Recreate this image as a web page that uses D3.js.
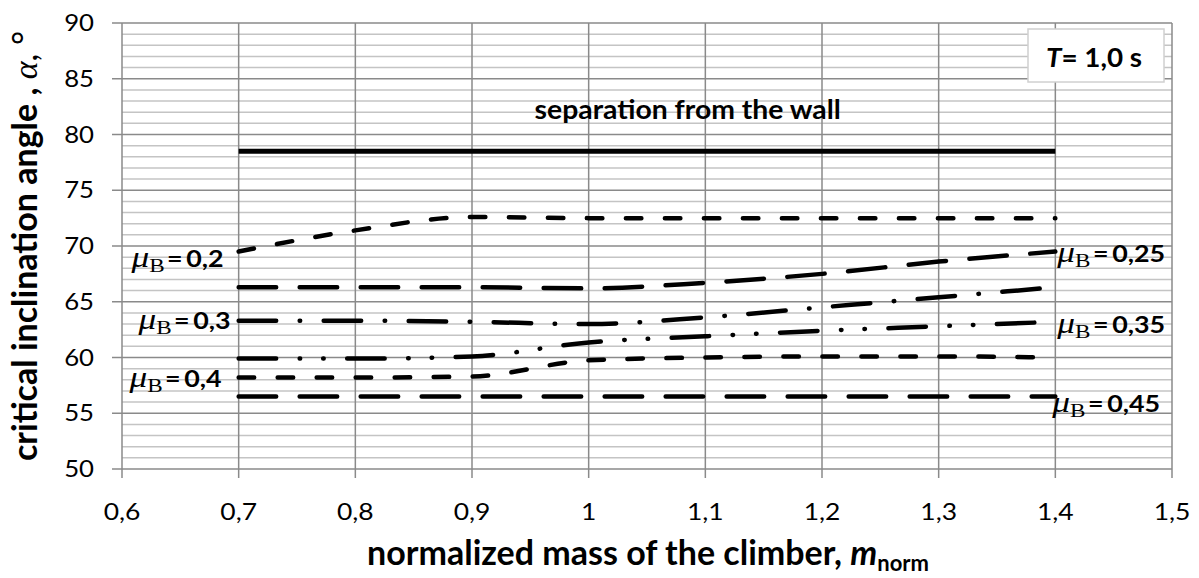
<!DOCTYPE html>
<html>
<head>
<meta charset="utf-8">
<script src="https://cdn.jsdelivr.net/npm/d3@7"></script>
<style>
  body { margin: 0; background: #fff; }
  text { font-family: Lato, "Open Sans", sans-serif; fill: #000; }
</style>
</head>
<body>
<script>
// values
const mass = [0.7, 0.8, 0.9, 1.0, 1.1, 1.2, 1.3, 1.4];
const separation = [78.5, 78.5, 78.5, 78.5, 78.5, 78.5, 78.5, 78.5];
const mu020 = [69.5, 71.4, 72.6, 72.5, 72.5, 72.5, 72.5, 72.5];
const mu025 = [66.3, 66.3, 66.3, 66.2, 66.7, 67.5, 68.6, 69.5];
const mu030 = [63.3, 63.3, 63.2, 63.0, 63.6, 64.5, 65.4, 66.3];
const mu035 = [59.9, 59.9, 60.1, 61.35, 61.9, 62.4, 62.8, 63.2];
const mu040 = [58.2, 58.2, 58.3, 59.75, 60.0, 60.1, 60.1, 60.0];
const mu045 = [56.5, 56.5, 56.5, 56.5, 56.5, 56.5, 56.5, 56.5];
const xTicks = [0.6, 0.7, 0.8, 0.9, 1.0, 1.1, 1.2, 1.3, 1.4, 1.5];
const yTicks = [50, 55, 60, 65, 70, 75, 80, 85, 90];

const width = 1199, height = 578;
const fmt = d => String(d).replace('.', ',');

const x = d3.scaleLinear().domain([0.6, 1.5]).range([122, 1172]);
const y = d3.scaleLinear().domain([50, 90]).range([469, 23]);

const svg = d3.select("body").append("svg")
    .attr("width", width)
    .attr("height", height);

// the original text is a bit wide, so stretch it horizontally around its anchor
function place(sel, px, py, sx) {
  sel.attr("transform", (d, i) => {
    const X = typeof px === "function" ? px(d, i) : px;
    const Y = typeof py === "function" ? py(d, i) : py;
    return `translate(${X},${Y}) scale(${sx},1)`;
  });
}

// minor gridlines every 1 degree
svg.append("g")
  .selectAll("line")
  .data(d3.range(50, 91, 1).filter(v => v % 5 !== 0))
  .enter().append("line")
    .attr("x1", x(0.6)).attr("x2", x(1.5))
    .attr("y1", d => y(d)).attr("y2", d => y(d))
    .attr("stroke", "#c4c4c4").attr("stroke-width", 1.5);

// vertical gridlines
svg.append("g")
  .selectAll("line")
  .data(xTicks)
  .enter().append("line")
    .attr("x1", d => x(d)).attr("x2", d => x(d))
    .attr("y1", y(90)).attr("y2", y(50) + 9)
    .attr("stroke", "#8a8a8a").attr("stroke-width", 1.5);

// major gridlines
svg.append("g")
  .selectAll("line")
  .data(yTicks)
  .enter().append("line")
    .attr("x1", x(0.6) - 10).attr("x2", x(1.5))
    .attr("y1", d => y(d)).attr("y2", d => y(d))
    .attr("stroke", "#8a8a8a").attr("stroke-width", 1.5);

// tick labels
svg.append("g")
  .selectAll("text")
  .data(yTicks)
  .enter().append("text")
    .call(place, 94, d => y(d) + 8, 1.12)
    .attr("text-anchor", "end")
    .style("font-size", "23px")
    .text(d => d);

svg.append("g")
  .selectAll("text")
  .data(xTicks)
  .enter().append("text")
    .call(place, d => x(d), 520, 1.15)
    .attr("text-anchor", "middle")
    .style("font-size", "23px")
    .text(d => fmt(d));

// curves
const series = [
  {values: separation, dash: null},
  {values: mu020, dash: "15.5 23.5"},
  {values: mu025, dash: "37.5 23.5"},
  {values: mu030, dash: "37.5 23.5 0.5 23.5"},
  {values: mu035, dash: "37.5 23.5 0.5 23 0.5 23.5"},
  {values: mu040, dash: "15.5 23.5"},
  {values: mu045, dash: "37.5 23.5"}
];

const line = d3.line()
    .x((d, i) => x(mass[i]))
    .y(d => y(d))
    .curve(d3.curveMonotoneX);

svg.append("g")
  .selectAll("path")
  .data(series)
  .enter().append("path")
    .attr("d", d => line(d.values))
    .attr("fill", "none")
    .attr("stroke", "#000")
    .attr("stroke-width", d => d.dash ? 4.5 : 5)
    .attr("stroke-linecap", d => d.dash ? "round" : "butt")
    .attr("stroke-dasharray", d => d.dash);

// mu labels next to the line ends
const muLabels = [
  {text: "0,2", values: mu020, side: "left", dx: -15, dy: 15},
  {text: "0,3", values: mu030, side: "left", dx: -8, dy: 8},
  {text: "0,4", values: mu040, side: "left", dx: -17, dy: 9},
  {text: "0,25", values: mu025, side: "right", dx: 2, dy: 10},
  {text: "0,35", values: mu035, side: "right", dx: 2, dy: 11},
  {text: "0,45", values: mu045, side: "right", dx: -3, dy: 15}
];

const lab = svg.append("g")
  .selectAll("text")
  .data(muLabels)
  .enter().append("text")
    .call(place,
      d => (d.side === "left" ? x(0.7) : x(1.4)) + d.dx,
      d => y(d.side === "left" ? d.values[0] : d.values[d.values.length - 1]) + d.dy,
      1.22)
    .attr("text-anchor", d => d.side === "left" ? "end" : "start");
lab.append("tspan")
    .style("font-family", "'Liberation Serif', serif")
    .style("font-style", "italic")
    .style("font-size", "29px")
    .text("μ");
lab.append("tspan")
    .style("font-family", "'Liberation Serif', serif")
    .style("font-size", "19px")
    .attr("dy", 5)
    .text("B");
lab.append("tspan")
    .style("font-weight", "bold")
    .style("font-size", "22px")
    .attr("dy", -5).attr("dx", 2)
    .text("=");
lab.append("tspan")
    .style("font-weight", "bold")
    .style("font-size", "22px")
    .attr("dx", 3)
    .text(d => d.text);

// separation label
svg.append("text")
    .call(place, x(1.0) + 99, 119, 1.09)
    .attr("text-anchor", "middle")
    .style("font-weight", "bold")
    .style("font-size", "26px")
    .text("separation from the wall");

// T legend box
svg.append("rect")
    .attr("x", 1028).attr("y", 29)
    .attr("width", 136).attr("height", 53)
    .attr("fill", "#fff")
    .attr("stroke", "#d0d0d0").attr("stroke-width", 1.5);
const tl = svg.append("text")
    .call(place, 1094, 67, 1.07)
    .attr("text-anchor", "middle")
    .style("font-weight", "bold")
    .style("font-size", "26px");
tl.append("tspan").style("font-style", "italic").text("T");
tl.append("tspan").text("= 1,0 s");

// axis titles
const yt = svg.append("text")
    .attr("transform", "translate(37,246) rotate(-90)")
    .attr("text-anchor", "middle")
    .style("font-weight", "bold")
    .style("font-size", "34px");
yt.append("tspan").text("critical inclination angle , ");
yt.append("tspan")
    .style("font-family", "'Liberation Serif', serif")
    .style("font-style", "italic")
    .style("font-weight", "normal")
    .text("α");
yt.append("tspan").style("font-weight", "normal").text(", °");

const xt = svg.append("text")
    .attr("x", 648).attr("y", 565)
    .attr("text-anchor", "middle")
    .style("font-weight", "bold")
    .style("font-size", "34px");
xt.append("tspan").text("normalized mass of the climber, ");
xt.append("tspan").style("font-style", "italic").text("m");
xt.append("tspan").attr("dy", 6).style("font-size", "22px").text("norm");
</script>
</body>
</html>
